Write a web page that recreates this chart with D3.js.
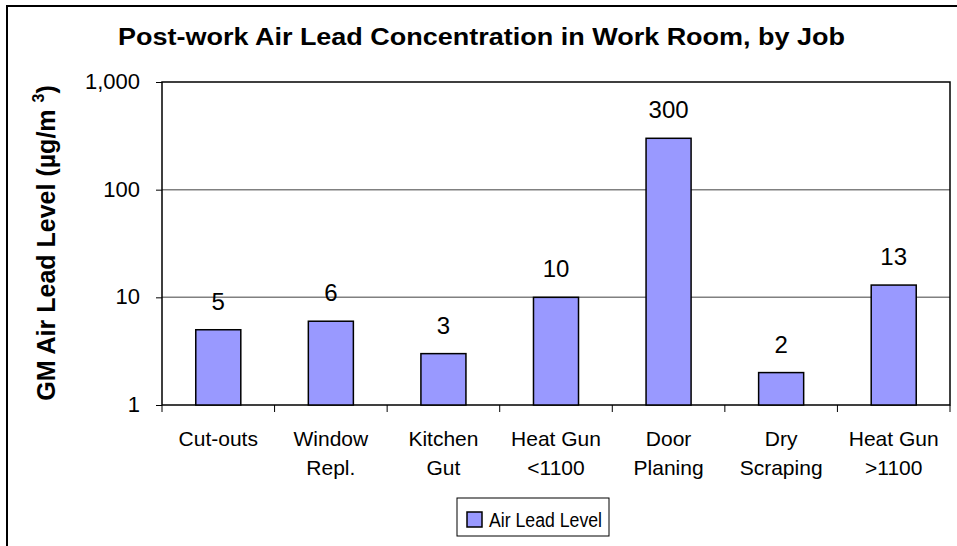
<!DOCTYPE html>
<html><head><meta charset="utf-8">
<script src="https://cdn.jsdelivr.net/npm/d3@7"></script>
<style>body{margin:0;background:#fff}svg{display:block;font-family:"Liberation Sans",Arial,sans-serif}</style>
</head><body><svg id="c" width="957" height="546"></svg>
<script>
const categories = [["Cut-outs"],["Window","Repl."],["Kitchen","Gut"],["Heat Gun","<1100"],["Door","Planing"],["Dry","Scraping"],["Heat Gun",">1100"]];
const values = [5, 6, 3, 10, 300, 2, 13];
const yTicks = [1, 10, 100, 1000];
const seriesName = "Air Lead Level";
const title = "Post-work Air Lead Concentration in Work Room, by Job";

const svg = d3.select("#c");
const m = {l:162, t:82, r:950, b:405};
// outer chart border
svg.append("path").attr("d","M7,546V6H957").attr("fill","none").attr("stroke","#000").attr("stroke-width",2);

const x = d3.scaleBand().domain(d3.range(values.length)).range([m.l,m.r]).paddingInner(0.6).paddingOuter(0.3);
const y = d3.scaleLog().domain([1,1000]).range([m.b,m.t]);

// gridlines
svg.append("g").selectAll("line").data(yTicks.slice(1,3)).join("line")
  .attr("x1",m.l).attr("x2",m.r).attr("y1",d=>y(d)).attr("y2",d=>y(d))
  .attr("stroke","#808080").attr("stroke-width",1.5);
// plot border
svg.append("rect").attr("x",m.l).attr("y",m.t).attr("width",m.r-m.l).attr("height",m.b-m.t)
  .attr("fill","none").attr("stroke","#000").attr("stroke-width",1.5);

// bars
svg.append("g").selectAll("rect").data(values).join("rect")
  .attr("x",(d,i)=>x(i)).attr("width",x.bandwidth())
  .attr("y",d=>y(d)).attr("height",d=>y(1)-y(d))
  .attr("fill","#9999FF").attr("stroke","#000").attr("stroke-width",1.5);
// value labels
svg.append("g").selectAll("text").data(values).join("text")
  .attr("x",(d,i)=>x(i)+x.bandwidth()/2).attr("y",d=>y(d)-20)
  .attr("text-anchor","middle").attr("font-size",24).text(d=>d);

// y axis
const ya = d3.axisLeft(y).tickValues(yTicks).tickFormat(d3.format(",")).tickSize(6).tickPadding(16);
const gy = svg.append("g").attr("transform",`translate(${m.l},0)`).call(ya);
gy.select(".domain").remove();
gy.selectAll("line").attr("stroke","#000");
gy.selectAll("text").attr("font-size",22).attr("font-family","Liberation Sans, Arial, sans-serif").attr("fill","#000").attr("dy","0.3em");

// x axis ticks at band boundaries
const bounds = d3.range(values.length+1).map(i=>m.l + i*(m.r-m.l)/values.length);
svg.append("g").selectAll("line").data(bounds).join("line")
  .attr("x1",d=>d).attr("x2",d=>d).attr("y1",m.b).attr("y2",m.b+7).attr("stroke","#000").attr("stroke-width",1);
// x labels
const xl = svg.append("g").selectAll("text").data(categories).join("text")
  .attr("x",(d,i)=>x(i)+x.bandwidth()/2).attr("y",446)
  .attr("text-anchor","middle").attr("font-size",21);
xl.selectAll("tspan").data(d=>d).join("tspan")
  .attr("x",function(){return this.parentNode.getAttribute("x");})
  .attr("dy",(d,i)=>i===0?0:29).text(d=>d);

// title
svg.append("text").attr("x",118).attr("y",45)
  .attr("font-size",23).attr("font-weight","bold")
  .attr("textLength",727).attr("lengthAdjust","spacingAndGlyphs").text(title);

// y label
const yl = svg.append("text").attr("transform","translate(55,243) rotate(-90)")
  .attr("text-anchor","middle").attr("font-size",25).attr("font-weight","bold");
yl.append("tspan").text("GM Air Lead Level (µg/m ");
yl.append("tspan").attr("font-size",16).attr("dy",-11).text("3");
yl.append("tspan").attr("dy",11).text(")");

// legend
const lg = svg.append("g");
lg.append("rect").attr("x",457).attr("y",498).attr("width",152).attr("height",38)
  .attr("fill","#fff").attr("stroke","#000").attr("stroke-width",1);
lg.append("rect").attr("x",467).attr("y",512).attr("width",15).attr("height",15)
  .attr("fill","#9999FF").attr("stroke","#000").attr("stroke-width",1.5);
lg.append("text").attr("x",489).attr("y",527).attr("font-size",20)
  .attr("textLength",113).attr("lengthAdjust","spacingAndGlyphs").text(seriesName);
</script></body></html>
